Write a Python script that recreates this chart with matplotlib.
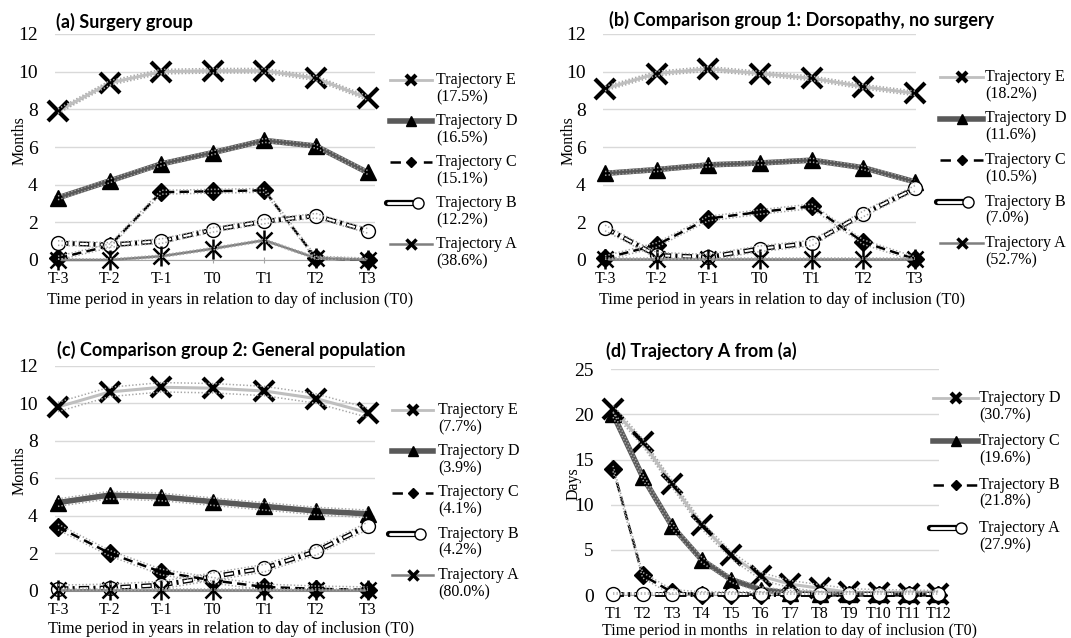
import matplotlib
matplotlib.use("Agg")
import matplotlib.pyplot as plt
from matplotlib.lines import Line2D

plt.rcParams['font.family'] = ['Liberation Serif', 'DejaVu Serif']
plt.rcParams['lines.scale_dashes'] = False

W, H = 1071, 638

years = ["T-3", "T-2", "T-1", "T0", "T1", "T2", "T3"]
months = ["T1", "T2", "T3", "T4", "T5", "T6", "T7", "T8", "T9", "T10", "T11", "T12"]

# (a) surgery group, months per year
a_E = [7.9, 9.4, 10.0, 10.05, 10.05, 9.65, 8.6]
a_D = [3.3, 4.2, 5.1, 5.7, 6.35, 6.05, 4.65]
a_C = [0.1, 0.75, 3.6, 3.65, 3.7, 0.1, 0.0]
a_B = [0.9, 0.8, 1.0, 1.6, 2.05, 2.35, 1.55]
a_A = [0.0, 0.0, 0.2, 0.6, 1.05, 0.1, 0.0]
a_pct = ["(17.5%)", "(16.5%)", "(15.1%)", "(12.2%)", "(38.6%)"]
a_ci = [0.12, 0.1, 0.1, 0.12, 0.06]

# (b) comparison group 1
b_E = [9.1, 9.9, 10.15, 9.9, 9.65, 9.2, 8.85]
b_D = [4.6, 4.8, 5.05, 5.15, 5.3, 4.9, 4.15]
b_C = [0.1, 0.8, 2.2, 2.55, 2.85, 0.95, 0.05]
b_B = [1.7, 0.25, 0.15, 0.6, 0.9, 2.45, 3.8]
b_A = [0.05, 0.05, 0.05, 0.05, 0.05, 0.05, 0.05]
b_pct = ["(18.2%)", "(11.6%)", "(10.5%)", "(7.0%)", "(52.7%)"]
b_ci = [0.12, 0.1, 0.12, 0.15, 0.05]

# (c) comparison group 2
c_E = [9.8, 10.6, 10.85, 10.8, 10.65, 10.25, 9.5]
c_D = [4.7, 5.1, 5.0, 4.75, 4.5, 4.25, 4.1]
c_C = [3.4, 2.0, 1.0, 0.55, 0.2, 0.1, 0.05]
c_B = [0.1, 0.15, 0.3, 0.75, 1.2, 2.1, 3.45]
c_A = [0.05, 0.05, 0.05, 0.05, 0.05, 0.05, 0.05]
c_pct = ["(7.7%)", "(3.9%)", "(4.1%)", "(4.2%)", "(80.0%)"]
c_ci = [0.25, 0.2, 0.15, 0.2, 0.05]

# (d) trajectory A from (a), days per month
d_D = [20.6, 16.9, 12.3, 7.7, 4.4, 2.1, 1.2, 0.75, 0.3, 0.2, 0.15, 0.1]
d_C = [20.0, 13.1, 7.6, 3.9, 1.7, 0.6, 0.2, 0.1, 0.1, 0.1, 0.1, 0.1]
d_B = [14.0, 2.2, 0.3, 0.05, 0.05, 0.05, 0.05, 0.05, 0.05, 0.05, 0.05, 0.05]
d_A = [0.1, 0.1, 0.1, 0.1, 0.1, 0.1, 0.1, 0.1, 0.1, 0.1, 0.1, 0.1]
d_pct = ["(30.7%)", "(19.6%)", "(21.8%)", "(27.9%)"]
d_ci = [0.4, 0.3, 0.3, 0.1]

GRID = '#d9d9d9'
LIGHT = '#bfbfbf'
DARK = '#595959'
MID = '#7f7f7f'
DOT = '#a6a6a6'


def draw_series(ax, x, y, style, ci, z):
    if style == 'x':
        ax.plot(x, y, color=LIGHT, lw=2.2, zorder=z, clip_on=False)
        ax.plot(x, y, ls='none', marker='x', ms=14, mew=3, color='black', zorder=z + 0.5, clip_on=False)
    elif style == 'tri':
        ax.plot(x, y, color=DARK, lw=4, zorder=z, clip_on=False)
        ax.plot(x, y, ls='none', marker='^', ms=12, color='black', zorder=z + 0.5, clip_on=False)
    elif style == 'dia':
        ax.plot(x, y, color='black', lw=1.8, ls=(0, (6.75, 3.75)), zorder=z, clip_on=False)
        ax.plot(x, y, ls='none', marker='D', ms=9, color='black', zorder=z + 0.5, clip_on=False)
    elif style == 'circ':
        ax.plot(x, y, color='black', lw=3.5, ls=(0, (7.5, 3, 1.5, 3)), solid_capstyle='butt',
                dash_capstyle='butt', zorder=z, clip_on=False)
        ax.plot(x, y, color='white', lw=1.5, ls=(14.25, (6, 9)), dash_capstyle='butt',
                zorder=z + 0.1, clip_on=False)
        ax.plot(x, y, ls='none', marker='o', ms=10, mfc='white', mec='black', mew=1,
                zorder=z + 0.5, clip_on=False)
    elif style == 'ast':
        ax.plot(x, y, color=MID, lw=1.8, zorder=z, clip_on=False)
        ax.plot(x, y, ls='none', marker='x', ms=12, mew=1.8, color='black', zorder=z + 0.5, clip_on=False)
        ax.plot(x, y, ls='none', marker='|', ms=15, mew=1.8, color='black', zorder=z + 0.5, clip_on=False)
    lo = [v - ci for v in y]
    hi = [v + ci for v in y]
    for b in (lo, hi):
        ax.plot(x, b, color=DOT, lw=1.1, ls=(0, (1, 1.5)), zorder=20)


def legend_handle(style, x0, x1, y):
    fx = lambda v: v / W
    fy = 1 - y / H
    xm = (x0 + x1) / 2
    arts = []
    if style == 'x':
        arts.append(Line2D([fx(x0), fx(xm), fx(x1)], [fy] * 3, color=LIGHT, lw=2))
        arts.append(Line2D([fx(xm)], [fy], ls='none', marker='x', ms=7, mew=3, color='black'))
    elif style == 'tri':
        arts.append(Line2D([fx(x0), fx(x1)], [fy] * 2, color=DARK, lw=4))
        arts.append(Line2D([fx(xm)], [fy], ls='none', marker='^', ms=7, color='black'))
    elif style == 'dia':
        arts.append(Line2D([fx(x0), fx(x1)], [fy] * 2, color='black', lw=1.8, ls=(0, (7.5, 16.5))))
        arts.append(Line2D([fx(xm)], [fy], ls='none', marker='D', ms=5, color='black'))
    elif style == 'circ':
        arts.append(Line2D([fx(x0 - 3), fx(x0 + 23)], [fy] * 2, color='black', lw=4.5, solid_capstyle='round'))
        arts.append(Line2D([fx(x0 - 2), fx(x0 + 22)], [fy] * 2, color='white', lw=2, solid_capstyle='round'))
        arts.append(Line2D([fx(x0 + 28)], [fy], ls='none', marker='o', ms=8, mfc='white', mec='black', mew=1))
    elif style == 'ast':
        arts.append(Line2D([fx(x0), fx(x1)], [fy] * 2, color=MID, lw=1.8))
        arts.append(Line2D([fx(xm)], [fy], ls='none', marker='x', ms=7, mew=2.5, color='black'))
    for a in arts:
        a.set_transform(fig.transFigure)
        fig.add_artist(a)


def setup_axes(rect_px, xlim, cats, ymax, ystep, ylabel, lab_x, lab_y, xlab, xlab_x, xlab_y, xlab_fs):
    left, right, top, bottom = rect_px
    ax = fig.add_axes([left / W, 1 - bottom / H, (right - left) / W, (bottom - top) / H])
    ax.set_xlim(*xlim)
    ax.set_ylim(0, ymax)
    ax.set_xticks(range(len(cats)))
    ax.set_xticklabels(cats, fontsize=11.5)
    ax.set_yticks(range(0, ymax + 1, ystep))
    ax.tick_params(axis='y', length=0, labelsize=14, pad=12.5)
    ax.tick_params(axis='x', length=4, direction='inout', color=DOT, pad=6)
    for s in ('top', 'left', 'right'):
        ax.spines[s].set_visible(False)
    ax.spines['bottom'].set_color(DOT)
    ax.yaxis.grid(True, color=GRID, lw=1)
    ax.set_axisbelow(True)
    ax.set_ylabel(ylabel, fontsize=11.5)
    ax.yaxis.set_label_coords(lab_x, lab_y)
    ax.set_xlabel(xlab, fontsize=xlab_fs)
    ax.xaxis.set_label_coords(xlab_x, xlab_y)
    return ax


fig = plt.figure(figsize=(W / 100, H / 100), dpi=100)

xl_years = "Time period in years in relation to day of inclusion (T0)"
xl_months = "Time period in months  in relation to day of inclusion (T0)"

panels = [
    dict(rect=(55, 375, 34, 260), xlim=(-0.058, 6.145), cats=years, ymax=12, ystep=2,
         ylabel="Months", lab=(-0.085, 0.53), xlab=xl_years, xlab_pos=(0.547, -0.14), xfs=11.8,
         series=[a_E, a_D, a_C, a_B, a_A], pct=a_pct, ci=a_ci,
         styles=['x', 'tri', 'dia', 'circ', 'ast'], names=['E', 'D', 'C', 'B', 'A'],
         leg=(390, 432, 436, 80, 41), title="(a) Surgery group", tpos=(55.5, 21.7)),
    dict(rect=(603, 916, 34, 260), xlim=(-0.04, 6.02), cats=years, ymax=12, ystep=2,
         ylabel="Months", lab=(-0.083, 0.53), xlab=xl_years, xlab_pos=(0.572, -0.14), xfs=11.8,
         series=[b_E, b_D, b_C, b_B, b_A], pct=b_pct, ci=b_ci,
         styles=['x', 'tri', 'dia', 'circ', 'ast'], names=['E', 'D', 'C', 'B', 'A'],
         leg=(940, 983, 985, 77, 41.5), title="(b) Comparison group 1: Dorsopathy, no surgery",
         tpos=(609, 20)),
    dict(rect=(55, 375, 365.7, 590.7), xlim=(-0.058, 6.145), cats=years, ymax=12, ystep=2,
         ylabel="Months", lab=(-0.085, 0.536), xlab=xl_years, xlab_pos=(0.55, -0.135), xfs=11.8,
         series=[c_E, c_D, c_C, c_B, c_A], pct=c_pct, ci=c_ci,
         styles=['x', 'tri', 'dia', 'circ', 'ast'], names=['E', 'D', 'C', 'B', 'A'],
         leg=(392, 433, 438, 410, 41.25), title="(c) Comparison group 2: General population",
         tpos=(57, 350)),
    dict(rect=(611, 939, 369.3, 595), xlim=(-0.07, 11.03), cats=months, ymax=25, ystep=5,
         ylabel="Days", lab=(-0.09, 0.494), xlab=xl_months, xlab_pos=(0.543, -0.122), xfs=11.5,
         series=[d_D, d_C, d_B, d_A], pct=d_pct, ci=d_ci,
         styles=['x', 'tri', 'dia', 'circ'], names=['D', 'C', 'B', 'A'],
         leg=(933, 978, 979, 398, 43.3), title="(d) Trajectory A from (a)", tpos=(605.6, 350.5)),
]

for p in panels:
    ax = setup_axes(p['rect'], p['xlim'], p['cats'], p['ymax'], p['ystep'], p['ylabel'],
                    p['lab'][0], p['lab'][1], p['xlab'], p['xlab_pos'][0], p['xlab_pos'][1], p['xfs'])
    x = list(range(len(p['cats'])))
    for i, (ys, st) in enumerate(zip(p['series'], p['styles'])):
        draw_series(ax, x, ys, st, p['ci'][i], 3 + i)
    hx0, hx1, tx, y0, dy = p['leg']
    for i, (st, nm, pc) in enumerate(zip(p['styles'], p['names'], p['pct'])):
        yy = y0 + i * dy
        legend_handle(st, hx0, hx1, yy)
        fig.text(tx / W, 1 - yy / H, "Trajectory " + nm, fontsize=11.5, va='center', ha='left')
        fig.text(tx / W, 1 - (yy + 17) / H, pc, fontsize=11.5, va='center', ha='left')
    fig.text(p['tpos'][0] / W, 1 - p['tpos'][1] / H, p['title'], fontsize=13, fontweight='bold',
             family='Lato', va='center', ha='left')

fig.savefig("out.png", dpi=100)
